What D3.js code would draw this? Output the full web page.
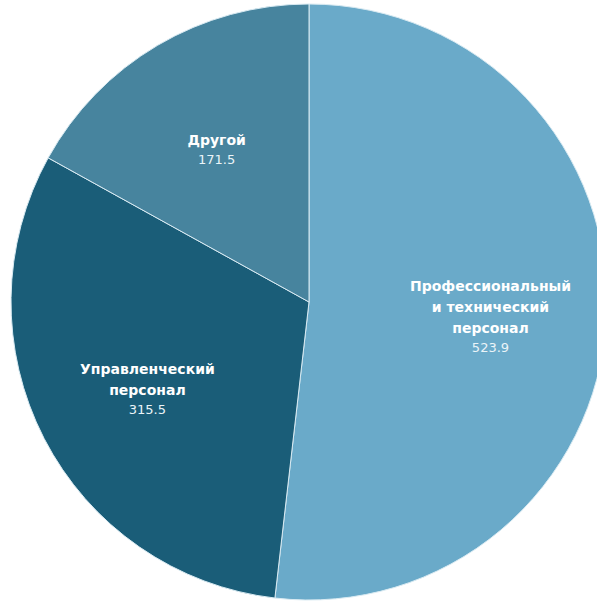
<!DOCTYPE html>
<html>
<head>
<meta charset="utf-8">
<script src="https://cdn.jsdelivr.net/npm/d3@7"></script>
<style>
  html, body { margin: 0; padding: 0; background: #ffffff; }
  svg { display: block; }
</style>
</head>
<body>
<svg id="chart" width="597" height="604"></svg>
<script>
// Staff breakdown by category
const categories = [
  ["Профессиональный", "и технический", "персонал"],
  ["Управленческий", "персонал"],
  ["Другой"]
];
const values = [523.9, 315.5, 171.5];
const colors = ["#6aaac9", "#1a5d78", "#47849e"];

const svg = d3.select("#chart");
const cx = 309, cy = 302, radius = 298;

const data = values.map((v, i) => ({ lines: categories[i], value: v, color: colors[i] }));

const pie = d3.pie().value(d => d.value).sort(null);
const arc = d3.arc().innerRadius(0).outerRadius(radius);
const labelArc = d3.arc().innerRadius(radius * 0.61).outerRadius(radius * 0.61);

const g = svg.append("g").attr("transform", `translate(${cx},${cy})`);
const arcs = pie(data);

g.selectAll("path.slice")
  .data(arcs)
  .join("path")
  .attr("class", "slice")
  .attr("d", arc)
  .attr("fill", d => d.data.color)
  .attr("stroke", "#d8eaf2")
  .attr("stroke-width", 1);

const lineH = 21;
const labels = g.selectAll("g.label")
  .data(arcs)
  .join("g")
  .attr("class", "label")
  .attr("transform", d => {
    const [x, y] = labelArc.centroid(d);
    return `translate(${x},${y})`;
  });

labels.each(function(d) {
  const sel = d3.select(this);
  const n = d.data.lines.length;
  const total = n * lineH + 18;
  const top = -total / 2 + 19;
  const text = sel.append("text")
    .attr("text-anchor", "middle")
    .attr("font-family", "'DejaVu Sans', sans-serif");
  d.data.lines.forEach((line, i) => {
    text.append("tspan")
      .attr("x", 0)
      .attr("y", top + i * lineH)
      .attr("font-size", 14)
      .attr("font-weight", 700)
      .attr("fill", "#ffffff")
      .text(line);
  });
  text.append("tspan")
    .attr("x", 0)
    .attr("y", top + (n - 1) * lineH + 19)
    .attr("font-size", 13)
    .attr("font-weight", 400)
    .attr("fill", "#eaf4f8")
    .text(d3.format(".1f")(d.data.value));
});
</script>
</body>
</html>
